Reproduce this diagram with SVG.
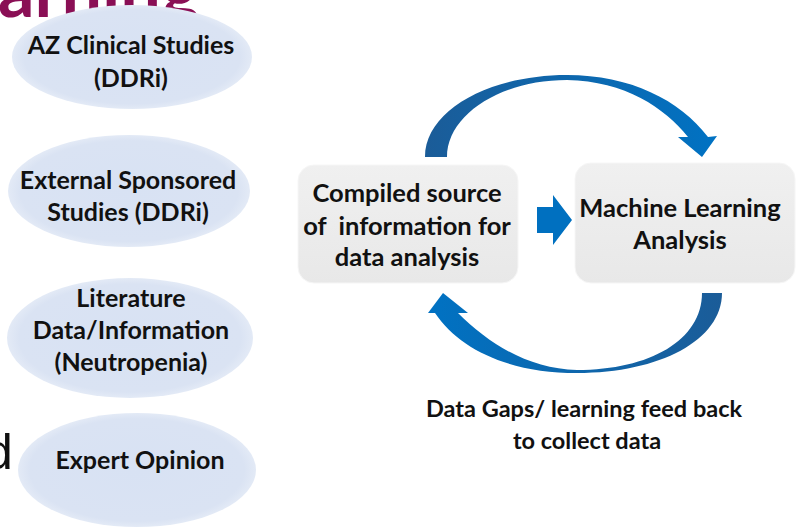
<svg xmlns="http://www.w3.org/2000/svg" width="796" height="527" viewBox="0 0 796 527">
  <defs>
    <radialGradient id="ovalFill" cx="50%" cy="50%" r="50%">
      <stop offset="0%" stop-color="#d8e2f3"/>
      <stop offset="90%" stop-color="#dae3f3"/>
      <stop offset="100%" stop-color="#e3eaf6"/>
    </radialGradient>
    <linearGradient id="boxFill" x1="0" y1="0" x2="0" y2="1">
      <stop offset="0%" stop-color="#f0f0f0"/>
      <stop offset="100%" stop-color="#e8e8e8"/>
    </linearGradient>
    <linearGradient id="arcTop" x1="425" y1="0" x2="717" y2="0" gradientUnits="userSpaceOnUse">
      <stop offset="0%" stop-color="#1b5c98"/>
      <stop offset="100%" stop-color="#0072c3"/>
    </linearGradient>
    <linearGradient id="arcBottom" x1="428" y1="0" x2="722" y2="0" gradientUnits="userSpaceOnUse">
      <stop offset="0%" stop-color="#0072c3"/>
      <stop offset="100%" stop-color="#1b5c98"/>
    </linearGradient>
  </defs>
  <style>
    .lbl { font-family: Lato, "Open Sans", "Liberation Sans", sans-serif; font-weight: 700; fill: #111; text-anchor: middle; white-space: pre; }
    .oval { font-size: 25px; }
    .box { font-size: 25.5px; }
    .cap { font-size: 23.5px; }
    .src { fill: url(#ovalFill); }
    .panel { fill: url(#boxFill); stroke: #f6f6f6; stroke-width: 1; }
  </style>

  <rect width="796" height="527" fill="#ffffff"/>

  <!-- slide title and body text running off the edges -->
  <text x="-2" y="17" font-family="Lato, 'Liberation Sans', sans-serif" font-weight="700" font-size="72" fill="#8a0f55">arning</text>
  <text x="-15" y="469" font-family="'Liberation Sans', sans-serif" font-size="50" fill="#111">d</text>

  <!-- data sources -->
  <g id="az-clinical">
    <ellipse class="src" cx="132" cy="57" rx="120" ry="52"/>
    <text class="lbl oval" x="131" y="54">AZ Clinical Studies</text>
    <text class="lbl oval" x="131" y="87">(DDRi)</text>
  </g>
  <g id="external-sponsored">
    <ellipse class="src" cx="129" cy="191" rx="121" ry="56"/>
    <text class="lbl oval" x="128" y="189">External Sponsored</text>
    <text class="lbl oval" x="128" y="221">Studies (DDRi)</text>
  </g>
  <g id="literature">
    <ellipse class="src" cx="130" cy="338" rx="123" ry="60"/>
    <text class="lbl oval" x="131" y="307">Literature</text>
    <text class="lbl oval" x="131" y="339">Data/Information</text>
    <text class="lbl oval" x="131" y="371">(Neutropenia)</text>
  </g>
  <g id="expert-opinion">
    <ellipse class="src" cx="137" cy="470" rx="119" ry="57"/>
    <text class="lbl oval" x="140" y="469">Expert Opinion</text>
  </g>

  <!-- analysis loop -->
  <g id="compiled-source">
    <rect class="panel" x="298" y="165" width="220" height="118" rx="16"/>
    <text class="lbl box" x="407" y="202">Compiled source</text>
    <text class="lbl box" x="407" y="235" xml:space="preserve">of  information for</text>
    <text class="lbl box" x="407" y="266">data analysis</text>
  </g>
  <g id="ml-analysis">
    <rect class="panel" x="575" y="163" width="220" height="120" rx="16"/>
    <text class="lbl box" x="680" y="217">Machine Learning</text>
    <text class="lbl box" x="680" y="249">Analysis</text>
  </g>

  <g id="connectors">
    <polygon fill="#0070c0" points="537,207 553,207 553,195 572,220 553,245 553,233 537,233"/>
    <path fill="url(#arcTop)" d="M425,157 C425,110 490,75 567,75 C630,75 680,100 708,137 L717,136 L702,157 L678,137 L688,137 C665,108 625,81 567,80 C500,80 447,115 447,157 Z"/>
    <path fill="url(#arcBottom)" d="M722,293 C722,340 660,373 577,373 C510,373 460,350 435,313 L428,313 L443,293 L468,313 L458,313 C490,345 530,369 577,370 C650,370 702,340 702,293 Z"/>
  </g>

  <g id="feedback-caption">
    <text class="lbl cap" x="584" y="417">Data Gaps/ learning feed back</text>
    <text class="lbl cap" x="587" y="449">to collect data</text>
  </g>
</svg>
